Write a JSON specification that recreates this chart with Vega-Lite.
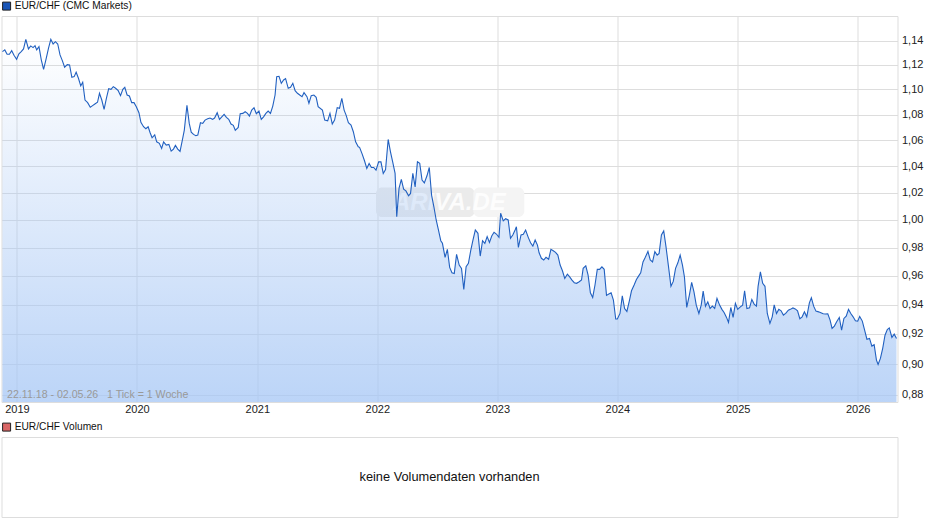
{"$schema":"https://vega.github.io/schema/vega-lite/v6.json","background":"white","padding":{"left":0.5,"top":0,"right":0,"bottom":0},"autosize":{"type":"pad"},"bounds":"flush","spacing":35,"config":{"view":{"stroke":"#dddddd","strokeWidth":1},"font":"Liberation Sans","axis":{"labelFont":"Liberation Sans","labelFontSize":11,"labelColor":"#222222","title":null},"legend":{"labelFont":"Liberation Sans","labelFontSize":10.2,"labelColor":"#111111"}},"datasets":{"quotes":[
{"d":"2018-11-18","v":1.1308},{"d":"2018-11-25","v":1.1322},{"d":"2018-12-02","v":1.1286},{"d":"2018-12-09","v":1.1286},{"d":"2018-12-16","v":1.1316},{"d":"2018-12-23","v":1.1278},{"d":"2018-12-31","v":1.1245},{"d":"2019-01-07","v":1.1289},{"d":"2019-01-14","v":1.1308},{"d":"2019-01-21","v":1.133},{"d":"2019-01-28","v":1.141},{"d":"2019-02-05","v":1.133},{"d":"2019-02-12","v":1.1355},{"d":"2019-02-19","v":1.1341},{"d":"2019-02-25","v":1.1357},{"d":"2019-03-02","v":1.1322},{"d":"2019-03-09","v":1.1349},{"d":"2019-03-16","v":1.124},{"d":"2019-03-23","v":1.1163},{"d":"2019-03-30","v":1.124},{"d":"2019-04-07","v":1.1336},{"d":"2019-04-14","v":1.141},{"d":"2019-04-21","v":1.1371},{"d":"2019-04-28","v":1.139},{"d":"2019-05-05","v":1.1371},{"d":"2019-05-12","v":1.1281},{"d":"2019-05-19","v":1.1234},{"d":"2019-05-26","v":1.118},{"d":"2019-06-03","v":1.1201},{"d":"2019-06-10","v":1.1198},{"d":"2019-06-17","v":1.1098},{"d":"2019-06-24","v":1.1103},{"d":"2019-06-30","v":1.1139},{"d":"2019-07-07","v":1.109},{"d":"2019-07-14","v":1.1028},{"d":"2019-07-20","v":1.1058},{"d":"2019-07-27","v":1.0915},{"d":"2019-08-04","v":1.0894},{"d":"2019-08-12","v":1.0857},{"d":"2019-08-19","v":1.087},{"d":"2019-08-26","v":1.0883},{"d":"2019-09-03","v":1.0897},{"d":"2019-09-09","v":1.0969},{"d":"2019-09-16","v":1.0915},{"d":"2019-09-23","v":1.0841},{"d":"2019-09-30","v":1.0929},{"d":"2019-10-07","v":1.1006},{"d":"2019-10-14","v":1.1001},{"d":"2019-10-21","v":1.1022},{"d":"2019-10-28","v":1.1009},{"d":"2019-11-05","v":1.099},{"d":"2019-11-12","v":1.095},{"d":"2019-11-19","v":1.1001},{"d":"2019-11-25","v":1.1017},{"d":"2019-12-02","v":1.0955},{"d":"2019-12-09","v":1.0947},{"d":"2019-12-16","v":1.0894},{"d":"2019-12-23","v":1.0894},{"d":"2019-12-30","v":1.0862},
{"d":"2020-01-07","v":1.0814},{"d":"2020-01-13","v":1.0738},{"d":"2020-01-21","v":1.0704},{"d":"2020-01-28","v":1.0688},{"d":"2020-02-04","v":1.0704},{"d":"2020-02-10","v":1.0657},{"d":"2020-02-16","v":1.0618},{"d":"2020-02-24","v":1.0641},{"d":"2020-03-01","v":1.0587},{"d":"2020-03-09","v":1.0575},{"d":"2020-03-16","v":1.0536},{"d":"2020-03-22","v":1.0587},{"d":"2020-03-30","v":1.0562},{"d":"2020-04-07","v":1.0567},{"d":"2020-04-14","v":1.0515},{"d":"2020-04-21","v":1.0531},{"d":"2020-04-27","v":1.0559},{"d":"2020-05-04","v":1.0531},{"d":"2020-05-11","v":1.0513},{"d":"2020-05-18","v":1.06},{"d":"2020-05-24","v":1.0678},{"d":"2020-06-01","v":1.0873},{"d":"2020-06-08","v":1.073},{"d":"2020-06-14","v":1.0662},{"d":"2020-06-21","v":1.0644},{"d":"2020-06-28","v":1.0634},{"d":"2020-07-04","v":1.0639},{"d":"2020-07-12","v":1.0735},{"d":"2020-07-19","v":1.073},{"d":"2020-07-26","v":1.0756},{"d":"2020-08-03","v":1.0766},{"d":"2020-08-10","v":1.0772},{"d":"2020-08-18","v":1.0762},{"d":"2020-08-24","v":1.0772},{"d":"2020-09-01","v":1.0814},{"d":"2020-09-08","v":1.0762},{"d":"2020-09-15","v":1.0782},{"d":"2020-09-22","v":1.0801},{"d":"2020-09-29","v":1.0777},{"d":"2020-10-06","v":1.0762},{"d":"2020-10-13","v":1.0725},{"d":"2020-10-20","v":1.0715},{"d":"2020-10-26","v":1.0676},{"d":"2020-11-04","v":1.0699},{"d":"2020-11-10","v":1.0806},{"d":"2020-11-18","v":1.0809},{"d":"2020-11-25","v":1.0822},{"d":"2020-12-02","v":1.0809},{"d":"2020-12-08","v":1.0788},{"d":"2020-12-15","v":1.0835},{"d":"2020-12-22","v":1.0854},{"d":"2020-12-29","v":1.0806},
{"d":"2021-01-06","v":1.0827},{"d":"2021-01-13","v":1.0762},{"d":"2021-01-20","v":1.0782},{"d":"2021-01-27","v":1.0809},{"d":"2021-02-03","v":1.0827},{"d":"2021-02-10","v":1.0809},{"d":"2021-02-17","v":1.0867},{"d":"2021-02-24","v":1.0955},{"d":"2021-03-01","v":1.1103},{"d":"2021-03-08","v":1.1106},{"d":"2021-03-15","v":1.1049},{"d":"2021-03-22","v":1.1076},{"d":"2021-03-28","v":1.1087},{"d":"2021-04-05","v":1.1009},{"d":"2021-04-12","v":1.1017},{"d":"2021-04-19","v":1.1049},{"d":"2021-04-26","v":1.099},{"d":"2021-05-03","v":1.0969},{"d":"2021-05-10","v":1.0955},{"d":"2021-05-17","v":1.0942},{"d":"2021-05-23","v":1.0974},{"d":"2021-06-01","v":1.0942},{"d":"2021-06-07","v":1.0889},{"d":"2021-06-14","v":1.095},{"d":"2021-06-22","v":1.0955},{"d":"2021-06-29","v":1.0937},{"d":"2021-07-05","v":1.0862},{"d":"2021-07-18","v":1.0835},{"d":"2021-07-25","v":1.0756},{"d":"2021-08-03","v":1.075},{"d":"2021-08-10","v":1.0809},{"d":"2021-08-17","v":1.0725},{"d":"2021-08-24","v":1.0756},{"d":"2021-09-01","v":1.0854},{"d":"2021-09-08","v":1.0849},{"d":"2021-09-15","v":1.0929},{"d":"2021-09-22","v":1.0835},{"d":"2021-09-28","v":1.0795},{"d":"2021-10-05","v":1.0735},{"d":"2021-10-13","v":1.0717},{"d":"2021-10-20","v":1.0665},{"d":"2021-10-27","v":1.0587},{"d":"2021-11-04","v":1.0548},{"d":"2021-11-08","v":1.0544},{"d":"2021-11-16","v":1.0492},{"d":"2021-11-23","v":1.0441},{"d":"2021-11-30","v":1.0383},{"d":"2021-12-07","v":1.0421},{"d":"2021-12-14","v":1.039},{"d":"2021-12-21","v":1.039},{"d":"2021-12-28","v":1.037},
{"d":"2022-01-05","v":1.0433},{"d":"2022-01-12","v":1.0433},{"d":"2022-01-19","v":1.0345},{"d":"2022-01-26","v":1.0375},{"d":"2022-02-03","v":1.0605},{"d":"2022-02-10","v":1.051},{"d":"2022-02-17","v":1.0429},{"d":"2022-02-24","v":1.0345},{"d":"2022-03-01","v":1.0023},{"d":"2022-03-08","v":1.0232},{"d":"2022-03-15","v":1.03},{"d":"2022-03-22","v":1.0227},{"d":"2022-03-29","v":1.0214},{"d":"2022-04-06","v":1.0177},{"d":"2022-04-12","v":1.0195},{"d":"2022-04-19","v":1.0345},{"d":"2022-04-26","v":1.0244},{"d":"2022-05-03","v":1.0433},{"d":"2022-05-10","v":1.0421},{"d":"2022-05-17","v":1.0295},{"d":"2022-05-24","v":1.0274},{"d":"2022-06-01","v":1.0327},{"d":"2022-06-08","v":1.039},{"d":"2022-06-15","v":1.0182},{"d":"2022-06-22","v":1.0096},{"d":"2022-06-29","v":0.9999},{"d":"2022-07-06","v":0.9926},{"d":"2022-07-13","v":0.9849},{"d":"2022-07-18","v":0.983},{"d":"2022-07-26","v":0.973},{"d":"2022-08-02","v":0.9787},{"d":"2022-08-09","v":0.9659},{"d":"2022-08-16","v":0.9621},{"d":"2022-08-23","v":0.9616},{"d":"2022-08-30","v":0.9751},{"d":"2022-09-07","v":0.9675},{"d":"2022-09-14","v":0.9652},{"d":"2022-09-21","v":0.9505},{"d":"2022-09-28","v":0.9663},{"d":"2022-10-05","v":0.9687},{"d":"2022-10-12","v":0.9777},{"d":"2022-10-19","v":0.9854},{"d":"2022-10-26","v":0.9926},{"d":"2022-11-03","v":0.9902},{"d":"2022-11-10","v":0.9739},{"d":"2022-11-17","v":0.9849},{"d":"2022-11-24","v":0.983},{"d":"2022-12-01","v":0.9878},{"d":"2022-12-08","v":0.9837},{"d":"2022-12-15","v":0.9883},{"d":"2022-12-22","v":0.991},{"d":"2022-12-29","v":0.9897},
{"d":"2023-01-06","v":0.9873},{"d":"2023-01-11","v":1.0048},{"d":"2023-01-19","v":0.9993},{"d":"2023-01-26","v":1.0008},{"d":"2023-02-03","v":0.9999},{"d":"2023-02-10","v":0.9866},{"d":"2023-02-17","v":0.989},{"d":"2023-02-24","v":0.9926},{"d":"2023-02-28","v":0.995},{"d":"2023-03-06","v":0.9801},{"d":"2023-03-14","v":0.989},{"d":"2023-03-21","v":0.9895},{"d":"2023-03-28","v":0.9926},{"d":"2023-04-05","v":0.9873},{"d":"2023-04-12","v":0.9834},{"d":"2023-04-19","v":0.981},{"d":"2023-04-26","v":0.9854},{"d":"2023-05-03","v":0.9817},{"d":"2023-05-08","v":0.9762},{"d":"2023-05-15","v":0.9723},{"d":"2023-05-22","v":0.9711},{"d":"2023-05-29","v":0.973},{"d":"2023-06-06","v":0.9716},{"d":"2023-06-13","v":0.9787},{"d":"2023-06-20","v":0.9777},{"d":"2023-06-27","v":0.9765},{"d":"2023-07-04","v":0.9746},{"d":"2023-07-11","v":0.9675},{"d":"2023-07-18","v":0.9635},{"d":"2023-07-25","v":0.9581},{"d":"2023-08-02","v":0.9611},{"d":"2023-08-09","v":0.9592},{"d":"2023-08-16","v":0.9569},{"d":"2023-08-23","v":0.9551},{"d":"2023-08-30","v":0.9547},{"d":"2023-09-07","v":0.9558},{"d":"2023-09-14","v":0.957},{"d":"2023-09-19","v":0.9652},{"d":"2023-09-27","v":0.967},{"d":"2023-10-04","v":0.9604},{"d":"2023-10-11","v":0.9481},{"d":"2023-10-18","v":0.9449},{"d":"2023-10-25","v":0.9535},{"d":"2023-11-01","v":0.9645},{"d":"2023-11-08","v":0.9645},{"d":"2023-11-15","v":0.9663},{"d":"2023-11-22","v":0.9645},{"d":"2023-11-29","v":0.9463},{"d":"2023-12-06","v":0.9472},{"d":"2023-12-13","v":0.9481},{"d":"2023-12-20","v":0.9431},{"d":"2023-12-27","v":0.9301},
{"d":"2024-01-01","v":0.9301},{"d":"2024-01-09","v":0.9339},{"d":"2024-01-16","v":0.946},{"d":"2024-01-23","v":0.9373},{"d":"2024-01-30","v":0.9353},{"d":"2024-02-07","v":0.9431},{"d":"2024-02-13","v":0.9495},{"d":"2024-02-21","v":0.9535},{"d":"2024-02-28","v":0.9574},{"d":"2024-03-04","v":0.9592},{"d":"2024-03-12","v":0.962},{"d":"2024-03-19","v":0.9697},{"d":"2024-03-26","v":0.973},{"d":"2024-04-03","v":0.9772},{"d":"2024-04-10","v":0.9711},{"d":"2024-04-17","v":0.9697},{"d":"2024-04-24","v":0.977},{"d":"2024-05-01","v":0.9746},{"d":"2024-05-07","v":0.9758},{"d":"2024-05-14","v":0.989},{"d":"2024-05-21","v":0.9919},{"d":"2024-05-28","v":0.9805},{"d":"2024-06-04","v":0.9675},{"d":"2024-06-12","v":0.9526},{"d":"2024-06-19","v":0.956},{"d":"2024-06-26","v":0.9652},{"d":"2024-07-03","v":0.9691},{"d":"2024-07-10","v":0.9746},{"d":"2024-07-17","v":0.9675},{"d":"2024-07-23","v":0.9592},{"d":"2024-07-30","v":0.938},{"d":"2024-08-07","v":0.9465},{"d":"2024-08-14","v":0.9553},{"d":"2024-08-21","v":0.9488},{"d":"2024-08-28","v":0.9396},{"d":"2024-09-05","v":0.9339},{"d":"2024-09-12","v":0.9396},{"d":"2024-09-18","v":0.9493},{"d":"2024-09-25","v":0.9389},{"d":"2024-10-02","v":0.9419},{"d":"2024-10-09","v":0.9373},{"d":"2024-10-16","v":0.9389},{"d":"2024-10-23","v":0.9373},{"d":"2024-10-30","v":0.9442},{"d":"2024-11-07","v":0.9396},{"d":"2024-11-14","v":0.9367},{"d":"2024-11-21","v":0.9344},{"d":"2024-11-28","v":0.9312},{"d":"2024-12-04","v":0.9278},{"d":"2024-12-11","v":0.938},{"d":"2024-12-18","v":0.9312},{"d":"2024-12-25","v":0.9408},
{"d":"2025-01-01","v":0.9367},{"d":"2025-01-09","v":0.9384},{"d":"2025-01-16","v":0.9396},{"d":"2025-01-22","v":0.9495},{"d":"2025-01-29","v":0.9373},{"d":"2025-02-06","v":0.9377},{"d":"2025-02-13","v":0.9435},{"d":"2025-02-20","v":0.9403},{"d":"2025-02-27","v":0.9389},{"d":"2025-03-04","v":0.9526},{"d":"2025-03-11","v":0.9627},{"d":"2025-03-18","v":0.9547},{"d":"2025-03-25","v":0.9526},{"d":"2025-04-01","v":0.9339},{"d":"2025-04-09","v":0.9271},{"d":"2025-04-16","v":0.9316},{"d":"2025-04-22","v":0.9398},{"d":"2025-04-29","v":0.9339},{"d":"2025-05-06","v":0.9367},{"d":"2025-05-13","v":0.9357},{"d":"2025-05-20","v":0.9328},{"d":"2025-05-27","v":0.9339},{"d":"2025-06-04","v":0.9361},{"d":"2025-06-10","v":0.9367},{"d":"2025-06-18","v":0.9377},{"d":"2025-06-25","v":0.937},{"d":"2025-07-02","v":0.9357},{"d":"2025-07-09","v":0.9303},{"d":"2025-07-16","v":0.9316},{"d":"2025-07-23","v":0.935},{"d":"2025-07-30","v":0.9316},{"d":"2025-08-07","v":0.9412},{"d":"2025-08-13","v":0.9447},{"d":"2025-08-20","v":0.9389},{"d":"2025-08-27","v":0.9355},{"d":"2025-09-04","v":0.935},{"d":"2025-09-11","v":0.9344},{"d":"2025-09-18","v":0.9337},{"d":"2025-09-25","v":0.9335},{"d":"2025-10-02","v":0.9337},{"d":"2025-10-09","v":0.9294},{"d":"2025-10-15","v":0.9237},{"d":"2025-10-22","v":0.9253},{"d":"2025-10-29","v":0.9282},{"d":"2025-11-06","v":0.9312},{"d":"2025-11-13","v":0.9226},{"d":"2025-11-20","v":0.9305},{"d":"2025-11-27","v":0.9321},{"d":"2025-12-04","v":0.9367},{"d":"2025-12-11","v":0.9339},{"d":"2025-12-18","v":0.9316},{"d":"2025-12-25","v":0.9289},
{"d":"2026-01-01","v":0.9287},{"d":"2026-01-07","v":0.9319},{"d":"2026-01-15","v":0.9287},{"d":"2026-01-22","v":0.9226},{"d":"2026-01-29","v":0.9165},{"d":"2026-02-06","v":0.917},{"d":"2026-02-13","v":0.9119},{"d":"2026-02-20","v":0.9128},{"d":"2026-02-27","v":0.9026},{"d":"2026-03-04","v":0.8997},{"d":"2026-03-11","v":0.9037},{"d":"2026-03-18","v":0.9104},{"d":"2026-03-25","v":0.9192},{"d":"2026-04-01","v":0.923},{"d":"2026-04-07","v":0.9241},{"d":"2026-04-15","v":0.9177},{"d":"2026-04-22","v":0.9199},{"d":"2026-04-29","v":0.917}
],"mark":[{"a":"2021-12-28","b":"2022-10-24","top":1.024,"bottom":1.002,"tone":"#ebebeb"},{"a":"2022-10-20","b":"2023-03-24","top":1.024,"bottom":1.002,"tone":"#f4f4f4"}]},"vconcat":[{"width":896,"height":386,"encoding":{"x":{"field":"d","type":"temporal","scale":{"domain":["2018-11-15","2026-05-02"]},"axis":{"tickCount":{"interval":"year","step":1},"format":"%Y","grid":true,"gridColor":"#dddddd","domain":false,"ticks":false,"labelPadding":1,"labelOverlap":false,"zindex":0}},"y":{"field":"v","type":"quantitative","scale":{"type":"log","domain":[0.8754,1.1606],"nice":false},"axis":{"orient":"right","values":[0.88,0.9,0.92,0.94,0.96,0.98,1,1.02,1.04,1.06,1.08,1.1,1.12,1.14],"labelExpr":"replace(format(datum.value,'.2f'),'.',',')","grid":true,"gridColor":"#dddddd","domain":false,"ticks":false,"labelPadding":4,"zindex":0}}},"layer":[{"data":{"name":"mark"},"mark":{"type":"rect","cornerRadius":6},"encoding":{"x":{"field":"a","type":"temporal"},"x2":{"field":"b"},"y":{"field":"top","type":"quantitative"},"y2":{"field":"bottom"},"color":{"field":"tone","type":"nominal","scale":null,"legend":null}}},{"data":{"values":[{"a":"2022-08-08","top":1.0125,"t":"ARIVA.DE"}]},"mark":{"type":"text","font":"Liberation Sans","fontStyle":"italic","fontWeight":"bold","fontSize":24,"color":"#ffffff","opacity":0.85,"baseline":"middle"},"encoding":{"x":{"field":"a","type":"temporal"},"y":{"field":"top","type":"quantitative"},"text":{"field":"t"}}},{"data":{"name":"quotes"},"mark":{"type":"area","clip":true,"color":{"gradient":"linear","x1":1,"y1":0,"x2":1,"y2":1,"stops":[{"offset":0,"color":"rgba(165,198,245,0)"},{"offset":1,"color":"rgba(165,198,245,0.75)"}]}},"encoding":{"y2":{"datum":0.8754}}},{"data":{"name":"quotes"},"mark":{"type":"line","clip":true,"strokeWidth":1.1,"color":"#2160c0"}},{"data":{"values":[{"a":"2018-12-02","top":0.88,"t":"22.11.18 - 02.05.26\u00a0\u00a0\u00a01 Tick = 1 Woche"}]},"mark":{"type":"text","align":"left","baseline":"middle","fontSize":10.6,"color":"#999999"},"encoding":{"x":{"field":"a","type":"temporal"},"y":{"field":"top","type":"quantitative"},"text":{"field":"t"}}},{"data":{"values":[{"k":1}]},"mark":{"type":"point","filled":true,"opacity":0},"encoding":{"x":{"datum":{"year":2022,"month":1,"date":1},"type":"temporal"},"y":{"datum":1},"fill":{"datum":"EUR/CHF (CMC Markets)","scale":{"range":["#1a56b8"]},"legend":{"title":null,"orient":"none","legendX":0,"legendY":-15,"symbolType":"square","symbolSize":64,"symbolOpacity":1,"symbolStrokeColor":"#222222","symbolStrokeWidth":1,"labelOffset":3,"labelLimit":300}}}}]},{"width":896,"height":80,"view":{"stroke":"#dddddd","strokeWidth":1},"data":{"values":[{"t":"keine Volumendaten vorhanden"}]},"layer":[{"mark":{"type":"text","fontSize":12.8,"color":"#111111","baseline":"middle"},"encoding":{"text":{"field":"t"}}},{"mark":{"type":"point","filled":true,"opacity":0},"encoding":{"fill":{"datum":"EUR/CHF Volumen","scale":{"range":["#d96666"]},"legend":{"title":null,"orient":"none","legendX":0,"legendY":-15,"symbolType":"square","symbolSize":64,"symbolOpacity":1,"symbolStrokeColor":"#222222","symbolStrokeWidth":1,"labelOffset":3,"labelLimit":300}}}}]}],"resolve":{"scale":{"fill":"independent"},"legend":{"fill":"independent"}}}
